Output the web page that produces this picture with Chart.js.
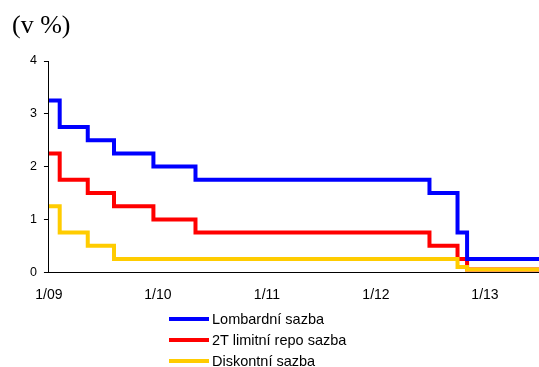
<!DOCTYPE html>
<html>
<head>
<meta charset="utf-8">
<script src="https://cdn.jsdelivr.net/npm/chart.js@4.4.1/dist/chart.umd.min.js"></script>
<style>
  html, body { margin: 0; padding: 0; background: #fff; }
  #wrap { position: relative; width: 539px; height: 367px; overflow: hidden; }
  #unit { position: absolute; left: 12px; top: 10px; font-family: "Liberation Serif", "Times New Roman", serif; font-size: 26px; color: #000; }
  #chartBox { position: absolute; left: 0; top: 0; width: 539px; height: 311px; }
  #legend { position: absolute; left: 169px; top: 309px; font-family: "Liberation Sans", Arial, sans-serif; font-size: 14.5px; color: #000; }
  .item { height: 20.7px; display: flex; align-items: center; }
  .swatch { width: 40px; height: 4px; margin-right: 3px; }
</style>
</head>
<body>
<div id="wrap">
  <div id="chartBox"><canvas id="c"></canvas></div>
  <div id="unit">(v %)</div>
  <div id="legend"></div>
</div>
<script>
// Dates when the rates changed (first entry = start of the period shown)
const changeDates = ["2009-01-01", "2009-02-06", "2009-05-11", "2009-08-07", "2009-12-17",
                     "2010-05-07", "2012-06-29", "2012-10-01", "2012-11-02", "2013-07-01"];
// Rates (%) valid from each date
const lombard  = [3.25, 2.75, 2.50, 2.25, 2.00, 1.75, 1.50, 0.75, 0.25, 0.25];
const repo2T   = [2.25, 1.75, 1.50, 1.25, 1.00, 0.75, 0.50, 0.25, 0.05, 0.05];
const discount = [1.25, 0.75, 0.50, 0.25, 0.25, 0.25, 0.25, 0.10, 0.05, 0.05];

const seriesNames  = ["Lombardní sazba", "2T limitní repo sazba", "Diskontní sazba"];
const seriesColors = ["#0000ff", "#ff0000", "#ffcc00"];
// drawing order: lower number is painted on top
const seriesLayer  = [0, 2, 1];

// x-axis ticks: years since January 2009
const xTickValues = [0, 1, 2, 3, 4];
const xTickLabels = ["1/09", "1/10", "1/11", "1/12", "1/13"];
const yTickValues = [0, 1, 2, 3, 4];

const origin = Date.UTC(2009, 0, 1);
function yearsFromStart(s) {
  const [y, m, d] = s.split("-").map(Number);
  return (Date.UTC(y, m - 1, d) - origin) / (365.25 * 86400000);
}
const xs = changeDates.map(yearsFromStart);
const toPoints = vals => vals.map((v, i) => ({ x: xs[i], y: v }));

const seriesValues = [lombard, repo2T, discount];
const datasets = seriesValues.map((vals, i) => ({
  label: seriesNames[i],
  data: toPoints(vals),
  borderColor: seriesColors[i],
  backgroundColor: seriesColors[i],
  borderWidth: 4,
  stepped: true,
  pointRadius: 0,
  fill: false,
  order: seriesLayer[i]
}));

Chart.defaults.font.family = '"Liberation Sans", Arial, sans-serif';
Chart.defaults.color = "#000";

new Chart(document.getElementById("c"), {
  type: "line",
  data: { datasets },
  options: {
    responsive: true,
    maintainAspectRatio: false,
    animation: false,
    layout: { padding: { top: 61, right: 0, left: 23, bottom: 0 } },
    plugins: { legend: { display: false }, tooltip: { enabled: false } },
    scales: {
      x: {
        type: "linear",
        min: 0,
        max: xs[xs.length - 1],
        afterBuildTicks: axis => { axis.ticks = xTickValues.map(v => ({ value: v })); },
        ticks: {
          callback: v => xTickLabels[xTickValues.indexOf(v)],
          font: { size: 14 },
          maxRotation: 0,
          padding: 7
        },
        grid: { display: false },
        border: { display: true, color: "#000", width: 1 }
      },
      y: {
        min: 0,
        max: 4,
        afterBuildTicks: axis => { axis.ticks = yTickValues.map(v => ({ value: v })); },
        ticks: { font: { size: 12.5 }, padding: 7 },
        grid: { drawOnChartArea: false, drawTicks: true, tickLength: 5, color: "#000" },
        border: { display: true, color: "#000", width: 1 }
      }
    }
  }
});

// Legend listed in a single column below the plot
const legend = document.getElementById("legend");
seriesNames.forEach((name, i) => {
  const row = document.createElement("div");
  row.className = "item";
  const sw = document.createElement("span");
  sw.className = "swatch";
  sw.style.background = seriesColors[i];
  const t = document.createElement("span");
  t.textContent = name;
  row.appendChild(sw);
  row.appendChild(t);
  legend.appendChild(row);
});
</script>
</body>
</html>
